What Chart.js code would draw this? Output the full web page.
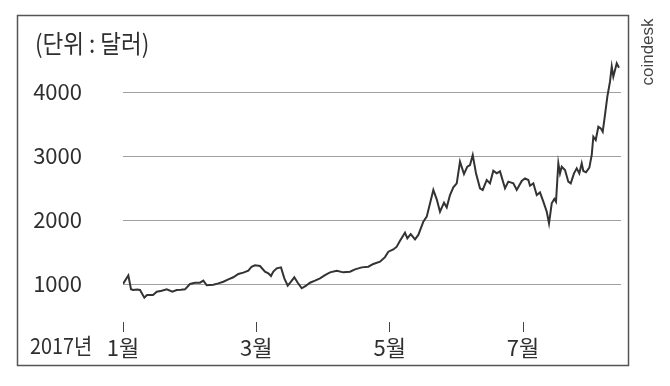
<!DOCTYPE html>
<html>
<head>
<meta charset="utf-8">
<script src="https://cdn.jsdelivr.net/npm/chart.js@4/dist/chart.umd.min.js"></script>
<style>
  html, body { margin: 0; padding: 0; background: #fff; }
</style>
</head>
<body>
<canvas id="c" width="670" height="386"></canvas>
<script>
// Bitcoin price, 2017 (position in months from 1 Jan, price in USD)
const months = [
  0, 0.080, 0.120, 0.150, 0.210, 0.255, 0.320, 0.360, 0.450, 0.506, 0.581, 0.656, 0.740, 0.806, 0.870, 0.930,
  1.005, 1.080, 1.155, 1.205, 1.256, 1.355, 1.430, 1.505, 1.580, 1.655, 1.730, 1.805, 1.880, 1.928, 1.980,
  2.055, 2.130, 2.180, 2.220, 2.255, 2.306, 2.370, 2.420, 2.471, 2.520, 2.570, 2.621, 2.681, 2.741, 2.805, 2.880, 2.955,
  3.030, 3.105, 3.206, 3.305, 3.405, 3.480, 3.581, 3.680, 3.755, 3.855, 3.930, 3.980,
  4.055, 4.106, 4.155, 4.230, 4.265, 4.316, 4.380, 4.430, 4.505, 4.556, 4.655, 4.706, 4.755, 4.815, 4.856, 4.905, 4.955,
  5.006, 5.055, 5.115, 5.165, 5.205, 5.246, 5.295, 5.355, 5.396, 5.456, 5.505, 5.555, 5.606, 5.655, 5.730, 5.780, 5.855, 5.906, 5.981,
  6.030, 6.080, 6.105, 6.155, 6.206, 6.255, 6.305, 6.356, 6.390, 6.431, 6.470, 6.495, 6.530, 6.555, 6.581, 6.630, 6.680, 6.716,
  6.765, 6.806, 6.845, 6.881, 6.905, 6.945, 6.995,
  7.031, 7.055, 7.091, 7.130, 7.166, 7.196, 7.230, 7.265, 7.305, 7.331, 7.355, 7.406, 7.440
];
const prices = [
  1000, 1135, 917, 906, 915, 906, 786, 828, 828, 880, 895, 917, 880, 906, 910, 917,
  1000, 1020, 1020, 1052, 980, 990, 1010, 1036, 1073, 1105, 1156, 1177, 1208, 1270, 1292,
  1281, 1193, 1167, 1125, 1193, 1245, 1260, 1089, 974, 1036, 1105, 1020, 933, 969, 1020, 1052, 1089,
  1140, 1182, 1208, 1182, 1193, 1229, 1260, 1271, 1313, 1349, 1420, 1505,
  1540, 1583, 1675, 1802, 1714, 1781, 1698, 1766, 1974, 2052, 2469, 2323, 2130, 2271, 2198, 2391, 2510,
  2573, 2911, 2719, 2833, 2859, 3016, 2729, 2495, 2469, 2625, 2573, 2771, 2729, 2760, 2495, 2599, 2573, 2469, 2609,
  2651, 2625, 2536, 2573, 2391, 2432, 2286, 2130, 1948, 2261, 2328, 2286, 2886, 2729, 2833, 2781, 2599, 2573,
  2729, 2807, 2729, 2886, 2766, 2745, 2818,
  3016, 3302, 3250, 3458, 3432, 3380, 3641, 3927, 4161, 4396, 4240, 4448, 4380
];

const xTickValues = [0, 2, 4, 6];
const xTickLabels = ['1월', '3월', '5월', '7월'];
const yTickValues = [1000, 2000, 3000, 4000];

const unitLabel = '(단위 : 달러)';
const yearLabel = '2017년';
const sourceLabel = 'coindesk';

const FONT = '"Noto Sans CJK KR", "Noto Sans", sans-serif';
const INK = '#2f2f2f';

// condensed text, like the narrow face of the original
function narrowText(ctx, text, x, y, size, squeeze) {
  ctx.save();
  ctx.translate(x, y);
  ctx.scale(squeeze, 1);
  ctx.font = size + 'px ' + FONT;
  ctx.textAlign = 'left';
  ctx.textBaseline = 'middle';
  ctx.fillText(text, 0, 0);
  ctx.restore();
}

// box, unit note, year and source are drawn on top of the chart
const frame = {
  id: 'frame',
  afterDraw(chart) {
    const ctx = chart.ctx;
    ctx.save();
    ctx.strokeStyle = '#555';
    ctx.lineWidth = 1.5;
    ctx.strokeRect(17.5, 15.5, 611, 350);

    ctx.fillStyle = INK;
    narrowText(ctx, unitLabel, 35, 43, 25, 0.9);
    narrowText(ctx, yearLabel, 30, 346, 22, 0.9);

    ctx.translate(648, 52);
    ctx.rotate(-Math.PI / 2);
    ctx.textAlign = 'center';
    ctx.textBaseline = 'middle';
    ctx.fillStyle = '#444';
    ctx.font = '17px "Liberation Sans", sans-serif';
    ctx.fillText(sourceLabel, 0, 0);
    ctx.restore();
  }
};

new Chart(document.getElementById('c'), {
  type: 'line',
  data: {
    datasets: [{
      data: months.map((m, i) => ({ x: m, y: prices[i] })),
      borderColor: '#333',
      borderWidth: 2,
      pointRadius: 0,
      tension: 0,
      fill: false
    }]
  },
  options: {
    responsive: false,
    animation: false,
    layout: { padding: { top: 28, right: 49, left: 0, bottom: 0 } },
    plugins: { legend: { display: false }, tooltip: { enabled: false } },
    scales: {
      x: {
        type: 'linear',
        min: 0,
        max: 7.47,
        afterBuildTicks: s => { s.ticks = xTickValues.map(v => ({ value: v })); },
        afterFit: s => { s.height = 64; },
        grid: { drawOnChartArea: false, drawTicks: true, tickLength: 10, color: '#444', lineWidth: 1 },
        border: { display: false },
        ticks: {
          autoSkip: false,
          maxRotation: 0,
          padding: 2,
          color: INK,
          font: { family: FONT, size: 22 },
          callback: v => xTickLabels[xTickValues.indexOf(v)]
        }
      },
      y: {
        min: 406.25,
        max: 5000,
        afterBuildTicks: s => { s.ticks = yTickValues.map(v => ({ value: v })); },
        afterFit: s => { s.width = 123; },
        // invisible 41px ticks push the labels left without adding vertical padding
        grid: { color: '#a0a0a0', lineWidth: 1, drawTicks: true, tickLength: 41, tickColor: 'rgba(0,0,0,0)' },
        border: { display: false },
        ticks: {
          padding: 0,
          color: INK,
          font: { family: FONT, size: 22 },
          callback: v => String(v)
        }
      }
    }
  },
  plugins: [frame]
});
</script>
</body>
</html>
